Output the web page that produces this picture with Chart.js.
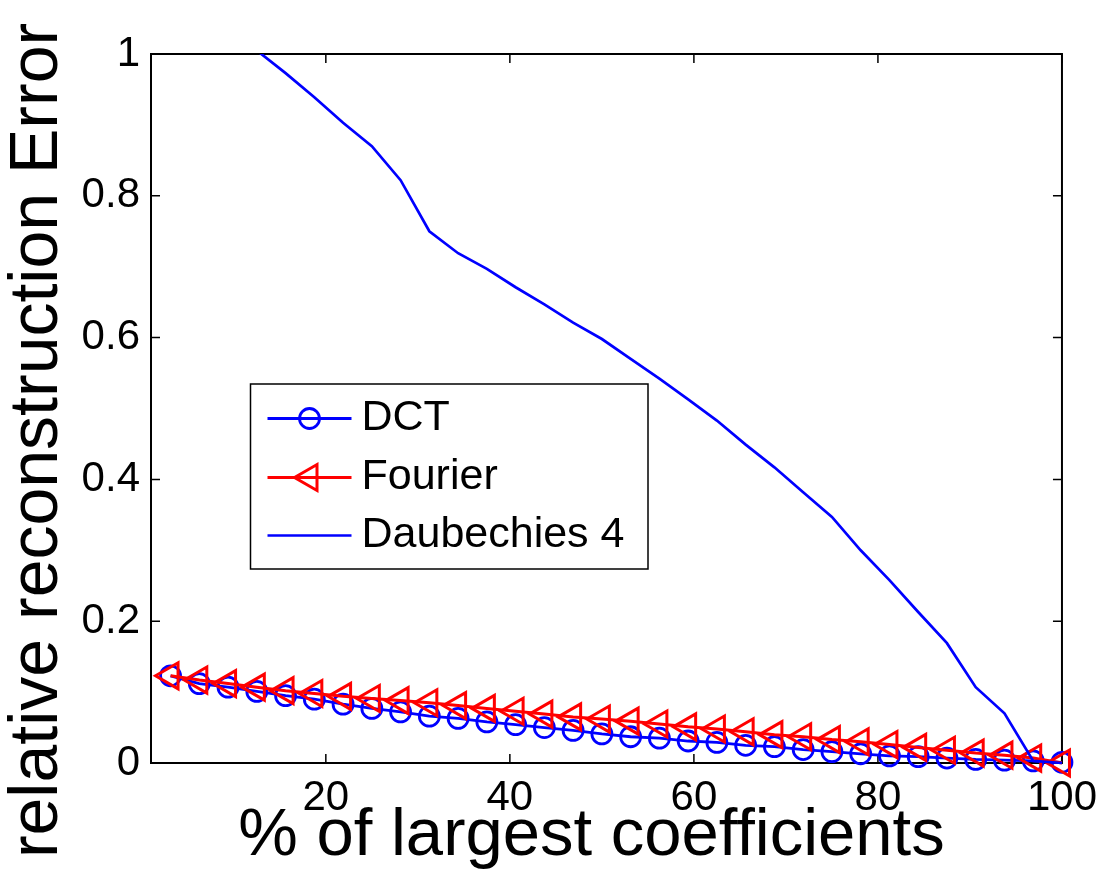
<!DOCTYPE html>
<html>
<head>
<meta charset="utf-8">
<script src="https://cdn.jsdelivr.net/npm/chart.js@4.4.1/dist/chart.umd.min.js"></script>
<style>
html,body{margin:0;padding:0;background:#ffffff;}
#wrap{width:1107px;height:876px;position:relative;}
</style>
</head>
<body>
<div id="wrap"><canvas id="c" width="1107" height="876"></canvas></div>
<script>
// ---- data ----
const xPercent = [3.125, 6.25, 9.375, 12.5, 15.625, 18.75, 21.875, 25, 28.125, 31.25, 34.375, 37.5, 40.625, 43.75, 46.875, 50,
                  53.125, 56.25, 59.375, 62.5, 65.625, 68.75, 71.875, 75, 78.125, 81.25, 84.375, 87.5, 90.625, 93.75, 96.875, 100];
const dctError = [0.123, 0.112, 0.107, 0.101, 0.095, 0.090, 0.083, 0.077, 0.072, 0.066, 0.063, 0.058, 0.054, 0.050, 0.046, 0.041,
                  0.037, 0.035, 0.031, 0.029, 0.025, 0.023, 0.019, 0.016, 0.013, 0.010, 0.009, 0.007, 0.005, 0.004, 0.003, 0.001];
const fourierError = [0.123, 0.117, 0.112, 0.107, 0.102, 0.098, 0.094, 0.091, 0.088, 0.085, 0.081, 0.077, 0.073, 0.069, 0.065, 0.062,
                      0.059, 0.055, 0.051, 0.048, 0.044, 0.040, 0.037, 0.033, 0.030, 0.026, 0.022, 0.018, 0.014, 0.011, 0.007, 0.000];
const daubechiesError = [1.12, 1.08, 1.04, 1.005, 0.973, 0.939, 0.903, 0.870, 0.822, 0.750, 0.719, 0.697, 0.671, 0.647, 0.621, 0.598,
                         0.570, 0.542, 0.513, 0.483, 0.449, 0.417, 0.382, 0.347, 0.300, 0.258, 0.213, 0.169, 0.107, 0.070, 0.003, 0.000];
const seriesNames = ['DCT', 'Fourier', 'Daubechies 4'];
const xTickValues = [20, 40, 60, 80, 100];
const yTickValues = [0, 0.2, 0.4, 0.6, 0.8, 1];
const yTickLabels = ['0', '0.2', '0.4', '0.6', '0.8', '1'];
const xAxisTitle = '% of largest coefficients';
const yAxisTitle = 'relative reconstruction Error';

const FONT = "'Liberation Sans', Arial, Helvetica, sans-serif";
const BLUE = '#0000ff';
const RED = '#ff0000';

function toPoints(ys) { return xPercent.map((x, i) => ({x: x, y: ys[i]})); }

// frame with inward ticks (MATLAB box style), positions from the chart scales
const framePlugin = {
  id: 'frame',
  beforeDatasetsDraw(chart) {
    const ctx = chart.ctx, a = chart.chartArea;
    const xs = chart.scales.x, ys = chart.scales.y;
    const tl = 9;
    ctx.save();
    ctx.strokeStyle = '#000';
    ctx.lineWidth = 1.5;
    ctx.beginPath();
    xs.ticks.forEach(t => {
      const px = xs.getPixelForValue(t.value);
      ctx.moveTo(px, a.bottom); ctx.lineTo(px, a.bottom - tl);
      ctx.moveTo(px, a.top); ctx.lineTo(px, a.top + tl);
    });
    ys.ticks.forEach(t => {
      const py = ys.getPixelForValue(t.value);
      ctx.moveTo(a.left, py); ctx.lineTo(a.left + tl, py);
      ctx.moveTo(a.right, py); ctx.lineTo(a.right - tl, py);
    });
    ctx.stroke();
    ctx.lineWidth = 2;
    ctx.strokeRect(a.left, a.top, a.right - a.left, a.bottom - a.top);
    ctx.restore();
  }
};

// axis titles (placed as in the reference, slightly off-centre)
const axisTitlePlugin = {
  id: 'axisTitles',
  afterDraw(chart) {
    const ctx = chart.ctx, a = chart.chartArea;
    ctx.save();
    ctx.fillStyle = '#000';
    ctx.textAlign = 'center';
    ctx.textBaseline = 'middle';
    ctx.font = '67px ' + FONT;
    ctx.fillText(xAxisTitle, (a.left + a.right) / 2 - 15, chart.height - 39.5);
    ctx.translate(38.5, (a.top + a.bottom) / 2 + 32);
    ctx.rotate(-Math.PI / 2);
    ctx.font = '68px ' + FONT;
    ctx.fillText(yAxisTitle, 0, 0);
    ctx.restore();
  }
};

// MATLAB-like legend box inside the axes
const legendPlugin = {
  id: 'boxLegend',
  afterDraw(chart) {
    const ctx = chart.ctx, a = chart.chartArea;
    const bx = a.left + 99.5, by = a.top + 330, bw = 397.5, bh = 185;
    ctx.save();
    ctx.fillStyle = '#fff';
    ctx.fillRect(bx, by, bw, bh);
    ctx.strokeStyle = '#000';
    ctx.lineWidth = 1.5;
    ctx.strokeRect(bx, by, bw, bh);
    const rowY = [34.5, 93.5, 151.5];
    chart.data.datasets.forEach((ds, r) => {
      const y = by + rowY[r];
      const x0 = bx + 17, x1 = bx + 101;
      ctx.strokeStyle = ds.borderColor;
      ctx.lineWidth = ds.borderWidth;
      ctx.beginPath(); ctx.moveTo(x0, y); ctx.lineTo(x1, y); ctx.stroke();
      if (ds.pointRadius > 0) {
        ctx.fillStyle = 'rgba(0,0,0,0)';
        ctx.strokeStyle = ds.pointBorderColor;
        ctx.lineWidth = ds.pointBorderWidth;
        Chart.helpers.drawPoint(ctx, {pointStyle: ds.pointStyle, rotation: ds.pointRotation || 0,
          radius: ds.pointRadius, borderWidth: ds.pointBorderWidth}, (x0 + x1) / 2, y);
      }
      ctx.fillStyle = '#000';
      ctx.font = '43px ' + FONT;
      ctx.textAlign = 'left';
      ctx.textBaseline = 'middle';
      ctx.fillText(ds.label, bx + 111, y);
    });
    ctx.restore();
  }
};

new Chart(document.getElementById('c'), {
  type: 'line',
  data: {
    datasets: [
      {
        label: seriesNames[0], data: toPoints(dctError), order: 3,
        borderColor: BLUE, borderWidth: 2.8, fill: false, tension: 0,
        pointStyle: 'circle', pointRadius: 10, pointBorderWidth: 2.8,
        pointBorderColor: BLUE, pointBackgroundColor: 'rgba(0,0,0,0)', clip: false
      },
      {
        label: seriesNames[1], data: toPoints(fourierError), order: 2,
        borderColor: RED, borderWidth: 3, fill: false, tension: 0,
        pointStyle: 'triangle', pointRotation: -90, pointRadius: 15, pointBorderWidth: 3,
        pointBorderColor: RED, pointBackgroundColor: 'rgba(0,0,0,0)', clip: false
      },
      {
        label: seriesNames[2], data: toPoints(daubechiesError), order: 1,
        borderColor: BLUE, borderWidth: 2.7, fill: false, tension: 0,
        pointRadius: 0, clip: {left: 10, top: 0, right: 10, bottom: 10}
      }
    ]
  },
  options: {
    responsive: false,
    animation: false,
    devicePixelRatio: 1,
    layout: {padding: {top: 54, right: 45, left: 0, bottom: 0}},
    plugins: {legend: {display: false}, tooltip: {enabled: false}},
    scales: {
      x: {
        type: 'linear', position: 'bottom', min: 1, max: 100,
        grid: {display: false, drawTicks: false},
        border: {display: false},
        afterBuildTicks: s => { s.ticks = xTickValues.map(v => ({value: v})); },
        afterFit: s => { s.height = 113; },
        ticks: {color: '#000', font: {family: FONT, size: 42}, padding: 10, maxRotation: 0, autoSkip: false,
                callback: v => String(v)},
        title: {display: false, text: xAxisTitle}
      },
      y: {
        type: 'linear', position: 'left', min: 0, max: 1,
        grid: {display: false, drawTicks: false},
        border: {display: false},
        afterBuildTicks: s => { s.ticks = yTickValues.map(v => ({value: v})); },
        afterFit: s => { s.width = 151; },
        ticks: {color: '#000', font: {family: FONT, size: 42}, padding: 11, autoSkip: false,
                callback: v => yTickLabels[yTickValues.indexOf(v)]},
        title: {display: false, text: yAxisTitle}
      }
    }
  },
  plugins: [framePlugin, axisTitlePlugin, legendPlugin]
});
</script>
</body>
</html>
